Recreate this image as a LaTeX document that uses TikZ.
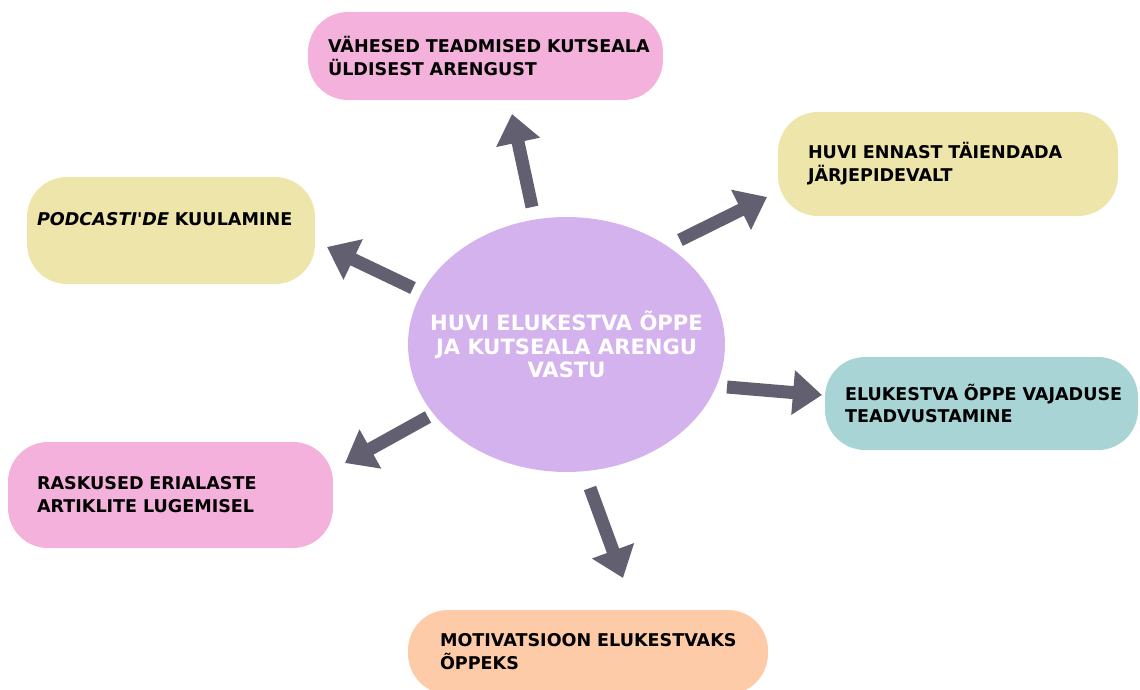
\documentclass[tikz,border=0pt]{standalone}
\usepackage{fontspec}
\setmainfont{DejaVu Sans}
\usepackage{tikz}
\usepackage{xcolor}
\usetikzlibrary{shapes,arrows.meta,positioning}
\definecolor{hubcolor}{RGB}{212,178,238}
\definecolor{pinkcolor}{RGB}{243,177,219}
\definecolor{yellowcolor}{RGB}{238,229,171}
\definecolor{tealcolor}{RGB}{168,212,213}
\definecolor{peachcolor}{RGB}{254,203,168}
\definecolor{arrowcolor}{RGB}{98,96,112}

\begin{document}
\begin{tikzpicture}[
    x=0.02cm, y=-0.02cm,
    box/.style={rectangle, rounded corners=0.8cm, inner sep=0pt, align=left, font=\bfseries\fontsize{10}{13}\selectfont},
    hub/.style={ellipse, inner ysep=0pt, inner xsep=-0.7cm, fill=hubcolor, text=white, align=center, font=\bfseries\fontsize{12}{13.4}\selectfont},
    spoke/.style={-{Triangle[length=0.58cm, width=0.86cm]}, line width=0.26cm, draw=arrowcolor}
]
\useasboundingbox (0,0) rectangle (1140,690);
\clip (0,0) rectangle (1140,690);

% Centre
\node[hub, minimum width=6.34cm, minimum height=5.1cm] (hub) at (566.5,344.5) {HUVI ELUKESTVA ÕPPE\\JA KUTSEALA ARENGU\\VASTU};

% Boxes
\node[box, fill=pinkcolor, minimum width=7.1cm, minimum height=1.76cm, text width=6.3cm] (vahesed) at (485.5,56) {\mbox{VÄHESED TEADMISED KUTSEALA}\\ÜLDISEST ARENGUST};
\node[box, fill=yellowcolor, minimum width=6.8cm, minimum height=2.08cm, text width=5.6cm] (taiendada) at (948,164) {HUVI ENNAST TÄIENDADA\\JÄRJEPIDEVALT};
\node[box, fill=yellowcolor, minimum width=5.76cm, minimum height=2.14cm, text width=5.36cm] (podcast) at (171,230.5) {\mbox{\itshape PODCASTI\textquotesingle DE\/} KUULAMINE\\\mbox{}};
\node[box, fill=tealcolor, minimum width=6.26cm, minimum height=1.86cm, text width=5.46cm] (teadvus) at (981.5,403.5) {\mbox{ELUKESTVA ÕPPE VAJADUSE}\\TEADVUSTAMINE};
\node[box, fill=pinkcolor, minimum width=6.5cm, minimum height=2.12cm, text width=5.34cm] (raskused) at (170.5,495) {RASKUSED ERIALASTE\\ARTIKLITE LUGEMISEL};
\node[box, fill=peachcolor, minimum width=7.2cm, minimum height=1.68cm, text width=5.92cm] (motiv) at (588,652) {\mbox{MOTIVATSIOON ELUKESTVAKS}\\ÕPPEKS};

% Arrow ends
\coordinate (vahesed-s) at (532,207);
\coordinate (vahesed-e) at (512,114);
\coordinate (taiendada-s) at (680,240);
\coordinate (taiendada-e) at (767,197);
\coordinate (podcast-s) at (413,288);
\coordinate (podcast-e) at (327,247);
\coordinate (teadvus-s) at (727,387);
\coordinate (teadvus-e) at (822,395);
\coordinate (raskused-s) at (428,417);
\coordinate (raskused-e) at (345,463);
\coordinate (motiv-s) at (590,488);
\coordinate (motiv-e) at (623,578);

% Arrows
\draw[spoke] (vahesed-s) -- (vahesed-e);
\draw[spoke] (taiendada-s) -- (taiendada-e);
\draw[spoke] (podcast-s) -- (podcast-e);
\draw[spoke] (teadvus-s) -- (teadvus-e);
\draw[spoke] (raskused-s) -- (raskused-e);
\draw[spoke] (motiv-s) -- (motiv-e);

\end{tikzpicture}
\end{document}
